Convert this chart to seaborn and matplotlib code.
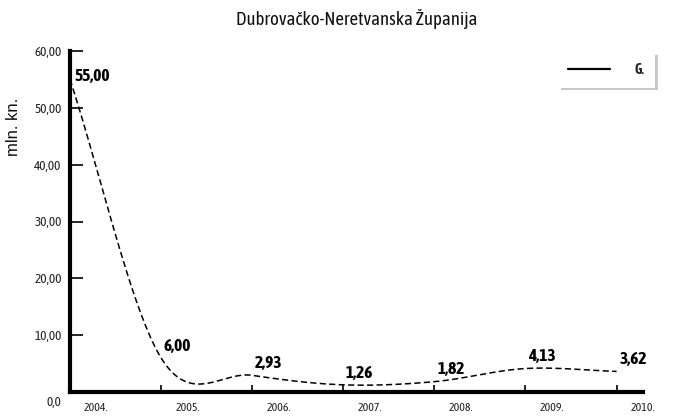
import numpy as np
import pandas as pd
import matplotlib
matplotlib.use("Agg")
import matplotlib.pyplot as plt
import matplotlib.transforms as mtransforms
from matplotlib.lines import Line2D
import seaborn as sns

# Data
years = ["2004.", "2005.", "2006.", "2007.", "2008.", "2009.", "2010."]
values = [55.00, 6.00, 2.93, 1.26, 1.82, 4.13, 3.62]
value_labels = ["55,00", "6,00", "2,93", "1,26", "1,82", "4,13", "3,62"]
y_ticks = [0, 10, 20, 30, 40, 50, 60]
y_tick_labels = ["0,0", "10,00", "20,00", "30,00", "40,00", "50,00", "60,00"]
title = "Dubrovačko-Neretvanska Županija"
y_title = "mln. kn."
series_name = "G."

sns.set_theme(style="white")
NARROW = ["Asap Condensed", "DejaVu Sans"]
plt.rcParams["font.family"] = NARROW


def smooth_curve(y, samples=40):
    """Catmull-Rom curve through the points (like a spreadsheet's smoothed line)."""
    y = np.asarray(y, dtype=float)
    n = len(y)
    xs, ys = [], []
    for i in range(n - 1):
        p0 = y[i - 1] if i > 0 else 2 * y[i] - y[i + 1]
        p1, p2 = y[i], y[i + 1]
        p3 = y[i + 2] if i + 2 < n else 2 * y[i + 1] - y[i]
        m1 = (p2 - p0) / 2.0
        m2 = (p3 - p1) / 2.0
        t = np.linspace(0, 1, samples, endpoint=(i == n - 2))
        h00 = 2 * t**3 - 3 * t**2 + 1
        h10 = t**3 - 2 * t**2 + t
        h01 = -2 * t**3 + 3 * t**2
        h11 = t**3 - t**2
        xs.append(i + t)
        ys.append(h00 * p1 + h10 * m1 + h01 * p2 + h11 * m2)
    return np.concatenate(xs), np.concatenate(ys)


cx, cy = smooth_curve(values)
curve = pd.DataFrame({"x": cx, "y": cy})

fig = plt.figure(figsize=(6.82, 4.16), dpi=100)
ax = fig.add_axes([70 / 682, 1 - 392 / 416, 573 / 682, 341 / 416])

sns.lineplot(data=curve, x="x", y="y", ax=ax, color="black",
             linewidth=1.1, linestyle=(0, (4, 2.2)), legend=False)

ax.set_xlim(0, len(years) - 1)
ax.set_ylim(0, 60)

# Axes styling
for side in ("top", "right"):
    ax.spines[side].set_visible(False)
for side in ("left", "bottom"):
    ax.spines[side].set_color("black")
    ax.spines[side].set_linewidth(3)

ax.set_yticks(y_ticks)
ax.set_yticklabels(y_tick_labels, fontsize=9.5, color="#222222")
ax.tick_params(axis="y", direction="in", length=9, width=1.2, color="black", pad=6,
               left=True)
ax.yaxis.get_major_ticks()[0].tick1line.set_visible(False)
shift = mtransforms.ScaledTranslation(0, -9 / 100, fig.dpi_scale_trans)
lab0 = ax.get_yticklabels()[0]
lab0.set_transform(lab0.get_transform() + shift)

ax.set_xticks(range(len(years)))
ax.set_xticklabels([""] * len(years))
ax.tick_params(axis="x", which="major", direction="in", length=5, width=1.2,
               color="black", bottom=True)
ax.set_xticks([i + 0.29 for i in range(len(years))], minor=True)
ax.set_xticklabels(years, minor=True, fontsize=8.5, color="#222222")
ax.tick_params(axis="x", which="minor", length=0, pad=7.5)
ax.xaxis.get_major_ticks()[0].tick1line.set_visible(False)
ax.set_xlabel("")
ax.set_ylabel("")

# Value labels, placed just above and to the right of each point
for i, (v, txt) in enumerate(zip(values, value_labels)):
    offset = (3, -3) if i == 0 else (2, 3)
    ax.annotate(txt, xy=(i, v), xytext=offset, textcoords="offset points",
                ha="left", va="bottom", fontsize=12.5, fontweight="bold",
                color="black", annotation_clip=False)

# Title and y-axis title
fig.text(357 / 682, 1 - 19 / 416, title, ha="center", va="center",
         fontsize=13.5, color="#111111")
fig.text(13 / 682, 1 - 127 / 416, y_title, ha="center", va="center",
         rotation=90, fontsize=12, color="#111111",
         family=["Liberation Sans", "DejaVu Sans"])

# Legend
handle = Line2D([0], [0], color="black", linewidth=1.6)
leg = ax.legend([handle], [series_name], loc="upper right",
                bbox_to_anchor=(1.021, 0.995), borderaxespad=0,
                frameon=True, fancybox=False, shadow={"color": "#bbbbbb", "alpha": 0.8},
                handlelength=3.0, handletextpad=1.8, borderpad=0.75,
                prop={"weight": "bold", "size": 10, "family": NARROW})
leg.get_frame().set_facecolor("white")
leg.get_frame().set_edgecolor("white")
leg.get_frame().set_linewidth(0)

fig.savefig("out.png", dpi=100)
